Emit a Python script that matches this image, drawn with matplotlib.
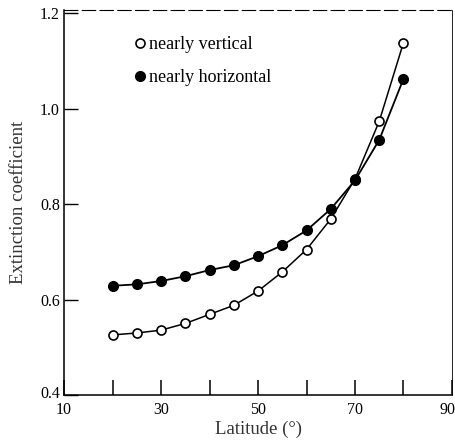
import matplotlib
matplotlib.use("Agg")
import matplotlib.pyplot as plt
import matplotlib.transforms as mtransforms

# latitude (degrees)
latitude = [20, 25, 30, 35, 40, 45, 50, 55, 60, 65, 70, 75, 80]
# extinction coefficient
vertical = [0.526, 0.530, 0.536, 0.550, 0.569, 0.588, 0.618, 0.658, 0.705, 0.769, 0.853, 0.974, 1.139]
horizontal = [0.629, 0.632, 0.639, 0.649, 0.662, 0.672, 0.691, 0.714, 0.745, 0.790, 0.850, 0.935, 1.063]

x_labels = [10, 30, 50, 70, 90]
x_minor = [20, 40, 60, 80]
y_ticks = [0.4, 0.6, 0.8, 1.0, 1.2]

plt.rcParams['font.family'] = ['Liberation Serif', 'DejaVu Serif']

fig = plt.figure(figsize=(4.55, 4.41), dpi=100)
ax = fig.add_axes([0.1407, 0.1043, 0.8527, 0.8727])

ax.plot(latitude, vertical, '-o', color='black', lw=1.1, ms=6.5,
        mfc='white', mec='black', mew=1.2, label='nearly vertical')
ax.plot(latitude, horizontal, '-o', color='black', lw=1.3, ms=7,
        mfc='black', mec='black', label='nearly horizontal')

ax.set_xlim(10, 90)
ax.set_ylim(0.4, 1.207)
ax.set_xticks(x_labels)
ax.set_xticks(x_minor, minor=True)
ax.set_yticks(y_ticks)
ax.set_yticklabels([f'{v:.1f}' for v in y_ticks])
ax.tick_params(axis='x', which='both', direction='in', length=11, width=1.1,
               labelsize=11.5, pad=5)
ax.tick_params(axis='y', direction='in', length=10, width=1.0, labelsize=11.5, pad=3)

# keep the edge labels inside the figure
xl = ax.get_xticklabels()
xl[-1].set_transform(xl[-1].get_transform() +
                     mtransforms.ScaledTranslation(-4 / 100, 0, fig.dpi_scale_trans))
yl = ax.get_yticklabels()
yl[0].set_transform(yl[0].get_transform() +
                    mtransforms.ScaledTranslation(0, 3 / 100, fig.dpi_scale_trans))

for s in ax.spines.values():
    s.set_linewidth(1.1)
ax.spines['top'].set_linestyle((0, (12, 4)))
ax.spines['top'].set_linewidth(0.8)
ax.spines['right'].set_linewidth(0.6)

ax.set_xlabel('Latitude (°)', fontsize=13.5, color='#333333', labelpad=2)
ax.set_ylabel('Extinction coefficient', fontsize=13.5, color='#333333', labelpad=9)

ax.legend(loc='upper left', bbox_to_anchor=(0.155, 0.975), frameon=False,
          handlelength=0, handletextpad=0.5, fontsize=13, labelspacing=0.9)

fig.savefig('out.png', dpi=100)
